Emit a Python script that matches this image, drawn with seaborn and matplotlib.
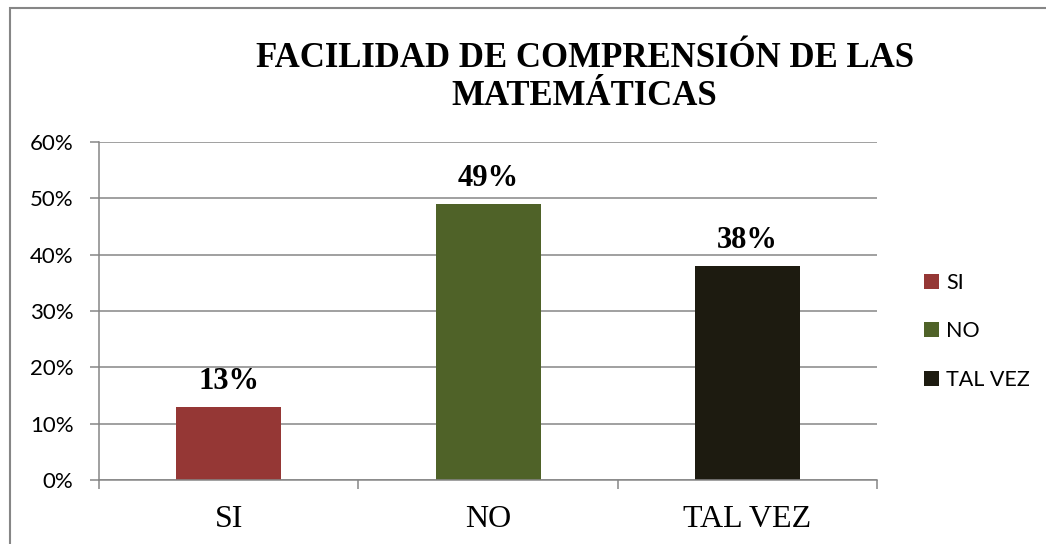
"""
Bar chart: facilidad de comprensión de las matemáticas.

Writes: out.png
"""

import matplotlib.pyplot as plt
import seaborn as sns
from matplotlib.patches import Rectangle

categories = ["SI", "NO", "TAL VEZ"]
percentages = [13, 49, 38]
bar_colors = ["#953735", "#4F6228", "#1D1B10"]
y_ticks = [0, 10, 20, 30, 40, 50, 60]
title = "FACILIDAD DE COMPRENSIÓN DE LAS\nMATEMÁTICAS"

GRID = "#868686"
SERIF = ["Liberation Serif", "DejaVu Serif"]
SANS = ["Lato", "DejaVu Sans"]

sns.set_theme(style="white")
plt.rcParams["font.family"] = SANS
plt.rcParams["text.color"] = "black"


def main() -> None:
    fig = plt.figure(figsize=(10.46, 5.44), dpi=100)
    ax = fig.add_axes([0.0947, 0.1176, 0.7437, 0.6213])

    sns.barplot(x=categories, y=percentages, hue=categories,
                palette=bar_colors, width=0.405, saturation=1,
                linewidth=0, legend=True, ax=ax)

    ax.set_ylim(0, 60)
    ax.set_xlim(-0.5, 2.5)
    ax.set_yticks(y_ticks)
    ax.set_yticklabels([f"{t}%" for t in y_ticks], fontsize=16)
    ax.yaxis.grid(True, color=GRID, lw=1.1)
    ax.set_axisbelow(True)

    # category labels centred, tick marks on the boundaries
    ax.set_xticks([-0.5, 0.5, 1.5, 2.5])
    ax.set_xticklabels([])
    ax.set_xticks(range(len(categories)), minor=True)
    ax.set_xticklabels(categories, minor=True, fontsize=23, family=SERIF)
    ax.tick_params(axis="x", which="major", length=6.5, width=1.1,
                   color=GRID, direction="out", bottom=True)
    ax.tick_params(axis="x", which="minor", length=0, pad=18,
                   labelcolor="black")
    ax.tick_params(axis="y", length=6.5, width=1.1, color=GRID,
                   direction="out", left=True, pad=12, labelcolor="black")
    ax.set_xlabel("")
    ax.set_ylabel("")

    for side in ["top", "right"]:
        ax.spines[side].set_visible(False)
    for side in ["left", "bottom"]:
        ax.spines[side].set_color(GRID)
        ax.spines[side].set_linewidth(1.1)

    for cont in ax.containers:
        ax.bar_label(cont, labels=[f"{v:.0f}%" for v in cont.datavalues],
                     padding=8, fontsize=22, fontweight="bold", family=SERIF,
                     color="black")

    leg = ax.legend(loc="center left", bbox_to_anchor=(1.035, 0.44),
                    frameon=False, fontsize=15.5, handlelength=0.7,
                    handleheight=0.7, handletextpad=0.35, labelspacing=1.33)
    for h in leg.legend_handles:
        h.set_edgecolor("none")
    for t in leg.get_texts():
        t.set_color("black")

    fig.text(0.559, 0.858, title, ha="center", va="center", color="black",
             fontsize=25, fontweight="bold", family=SERIF, linespacing=1.2)

    # chart frame (cropped on the right and bottom in the original)
    fig.add_artist(Rectangle((10 / 1046, -0.1), 1.2, 1.1 - 8 / 544,
                             transform=fig.transFigure, fill=False,
                             edgecolor=GRID, lw=1.5))

    fig.savefig("out.png", dpi=100)


if __name__ == "__main__":
    main()
